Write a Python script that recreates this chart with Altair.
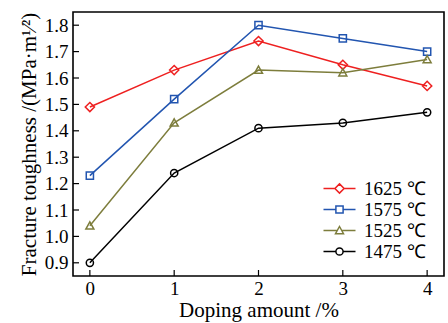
import altair as alt
import pandas as pd

doping = [0, 1, 2, 3, 4]
series = ["1625 ℃", "1575 ℃", "1525 ℃", "1475 ℃"]
v1625 = [1.49, 1.63, 1.74, 1.65, 1.57]
v1575 = [1.23, 1.52, 1.80, 1.75, 1.70]
v1525 = [1.04, 1.43, 1.63, 1.62, 1.67]
v1475 = [0.90, 1.24, 1.41, 1.43, 1.47]
x_ticks = [0, 1, 2, 3, 4]
y_ticks = [0.9, 1.0, 1.1, 1.2, 1.3, 1.4, 1.5, 1.6, 1.7, 1.8]

colors = ["#ee2020", "#2255b0", "#7d7d3c", "#000000"]
FONT = "Liberation Serif"

rows = []
for name, vals in zip(series, [v1625, v1575, v1525, v1475]):
    for d, v in zip(doping, vals):
        rows.append({"x": d, "y": v, "series": name})
df = pd.DataFrame(rows)

xs = alt.Scale(domain=[-0.2, 4.2], nice=False, zero=False)
ys = alt.Scale(domain=[0.85, 1.85], nice=False, zero=False)
cs = alt.Scale(domain=series, range=colors)

xaxis = alt.Axis(values=x_ticks, title="Doping amount /%", format="d",
                 tickSize=0, labelPadding=3, domain=False, grid=False,
                 titleFontSize=21, titleBaseline="alphabetic", titleY=40)
yaxis = alt.Axis(values=y_ticks, title="Fracture toughness /(MPa·m¹⁄²)", format=".1f",
                 tickSize=0, labelPadding=5, titlePadding=5, domain=False, grid=False,
                 titleFontSize=21)

diamond = "M0,-1.15L1.15,0L0,1.15L-1.15,0Z"
square = "M-0.9,-0.9H0.9V0.9H-0.9Z"
triangle = "M0,-1L1,0.8H-1Z"
circle = "M-0.9,0A0.9,0.9 0 1,0 0.9,0A0.9,0.9 0 1,0 -0.9,0"
marker_shapes = [diamond, square, triangle, circle]
legend_shapes = [
    "M-4,0H-1.15M1.15,0H4" + diamond,
    "M-4,0H-0.9M0.9,0H4" + square,
    "M-4,0H-0.55M0.55,0H4" + triangle,
    "M-4,0H-0.9M0.9,0H4" + circle,
]

base = alt.Chart(df)

lines = base.mark_line(strokeWidth=1.5).encode(
    x=alt.X("x:Q", scale=xs, axis=xaxis),
    y=alt.Y("y:Q", scale=ys, axis=yaxis),
    color=alt.Color("series:N", scale=cs, legend=None),
    detail="series:N",
)

points = base.mark_point(filled=False, strokeWidth=1.5, size=64, opacity=1).encode(
    x=alt.X("x:Q", scale=xs, axis=xaxis),
    y=alt.Y("y:Q", scale=ys, axis=yaxis),
    color=alt.Color("series:N", scale=cs, legend=None),
    shape=alt.Shape("series:N", scale=alt.Scale(domain=series, range=marker_shapes), legend=None),
)

leg = alt.Legend(
    title=None, orient="none", legendX=257, legendY=167,
    symbolSize=64, symbolStrokeWidth=1.5, labelFont=FONT, labelFontSize=19,
    labelOffset=15, rowPadding=1, padding=0, labelColor="black",
)
legend_layer = base.transform_filter("false").mark_point(filled=False, strokeWidth=1.5, opacity=1).encode(
    x=alt.X("x:Q", scale=xs, axis=xaxis),
    y=alt.Y("y:Q", scale=ys, axis=yaxis),
    color=alt.Color("series:N", scale=cs, legend=leg),
    shape=alt.Shape("series:N", scale=alt.Scale(domain=series, range=legend_shapes), legend=leg),
)

xt = pd.DataFrame({"x": x_ticks})
yt = pd.DataFrame({"y": y_ticks})
xtick_layer = alt.Chart(xt).mark_rule(color="black", strokeWidth=1.2).encode(
    x=alt.X("x:Q", scale=xs, axis=xaxis), y=alt.value(264), y2=alt.value(258))
ytick_layer = alt.Chart(yt).mark_rule(color="black", strokeWidth=1.2).encode(
    y=alt.Y("y:Q", scale=ys, axis=yaxis), x=alt.value(0), x2=alt.value(6))

chart = alt.layer(lines, points, legend_layer, xtick_layer, ytick_layer).resolve_scale(
    color="independent", shape="independent"
).properties(
    width=371, height=264,
    padding={"left": 73, "top": 12, "right": 4, "bottom": 47},
    autosize="none", background="white",
).configure_view(stroke="black", strokeWidth=1.6).configure_axis(
    labelFont=FONT, titleFont=FONT, labelFontSize=19, titleFontSize=21,
    labelColor="black", titleColor="black", titleFontWeight="normal",
)

chart.save("out.html", embed_options={"renderer": "svg", "actions": False})
